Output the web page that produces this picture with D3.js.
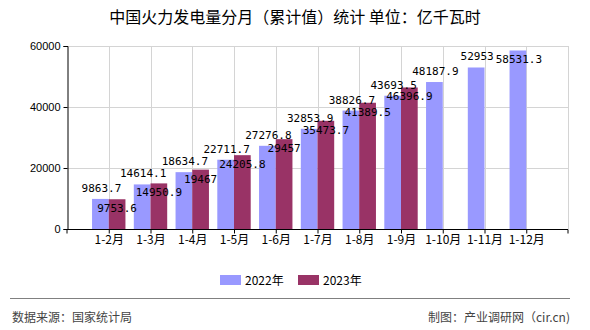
<!DOCTYPE html>
<html><head><meta charset="utf-8">
<script src="https://cdn.jsdelivr.net/npm/d3@7"></script>
<style>
html,body{margin:0;padding:0;background:#fff;}
svg{display:block;}
</style></head>
<body>
<script>
const categories = ["1-2月","1-3月","1-4月","1-5月","1-6月","1-7月","1-8月","1-9月","1-10月","1-11月","1-12月"];
const series2022 = [9863.7,14614.1,18634.7,22711.7,27276.8,32853.9,38826.7,43693.5,48187.9,52953,58531.3];
const series2023 = [9753.6,14950.9,19467,24205.8,29457,35473.7,41389.5,46396.9,null,null,null];
const seriesNames = ["2022年","2023年"];
const yTicks = [0,20000,40000,60000];
const colors = ["#9999FF","#993366"];

const W=590,H=330;
const svg=d3.select("body").append("svg").attr("width",W).attr("height",H);
const x0=67,x1=568,yTop=46,yBot=229;
const x=d3.scalePoint().domain(categories).range([x0,x1]).padding(1);
const y=d3.scaleLinear().domain([0,60000]).range([yBot,yTop]);
const step=x.step(), bw=step*0.4;
const cjk="'Noto Sans CJK SC','Noto Sans',sans-serif";
const mono="'DejaVu Sans Mono','Liberation Mono',monospace";

svg.append("text").attr("x",295).attr("y",23).attr("text-anchor","middle")
  .style("font-family",cjk).style("font-size","16px").style("fill","#000")
  .text("中国火力发电量分月（累计值）统计 单位：亿千瓦时");

// grid
const g=svg.append("g");
g.selectAll("line.h").data(yTicks.filter(d=>d>0)).join("line")
  .attr("x1",x0).attr("x2",x1).attr("y1",d=>y(d)+0.5).attr("y2",d=>y(d)+0.5)
  .attr("stroke","#d4d4d4").attr("stroke-width",1);
g.selectAll("line.v").data(categories).join("line")
  .attr("x1",d=>Math.round(x(d))+0.5).attr("x2",d=>Math.round(x(d))+0.5).attr("y1",yTop).attr("y2",yBot)
  .attr("stroke","#d4d4d4");
g.append("line").attr("x1",x1+0.5).attr("x2",x1+0.5).attr("y1",yTop).attr("y2",yBot).attr("stroke","#d4d4d4");

// bars
const bars=svg.append("g");
bars.selectAll("rect.a").data(categories).join("rect")
  .attr("x",d=>x(d)-bw).attr("width",bw)
  .attr("y",(d,i)=>y(series2022[i])).attr("height",(d,i)=>yBot-y(series2022[i]))
  .attr("fill",colors[0]);
const d23=categories.map((c,i)=>({c,v:series2023[i]})).filter(d=>d.v!=null);
bars.selectAll("rect.b").data(d23).join("rect")
  .attr("x",d=>x(d.c)).attr("width",bw)
  .attr("y",d=>y(d.v)).attr("height",d=>yBot-y(d.v))
  .attr("fill",colors[1]);

// axes
const yAxis=d3.axisLeft(y).tickValues(yTicks).tickSize(4).tickFormat(d3.format("d"));
const ya=svg.append("g").attr("transform",`translate(${x0+0.5},0)`).call(yAxis);
ya.select(".domain").attr("stroke","#000");
ya.selectAll(".tick line").attr("stroke","#000");
ya.selectAll(".tick text").style("font-family","'Liberation Sans',Arial,sans-serif").style("font-size","11px").attr("fill","#000").attr("x",-7);

const xAxis=d3.axisBottom(x).tickSize(4).tickSizeOuter(4);
const xa=svg.append("g").attr("transform",`translate(0,${yBot+0.5})`).call(xAxis);
xa.select(".domain").attr("stroke","#000").attr("d",`M${x0},4V0H${x1}V4`);
xa.selectAll(".tick line").attr("stroke","#000");
xa.selectAll(".tick text").style("font-family",cjk).style("font-size","12px").attr("fill","#000").attr("dy","0.71em").attr("y",6);

// labels
const lab=svg.append("g").style("font-family",mono).style("font-size","11px").attr("fill","#000");
lab.selectAll("text.a").data(categories).join("text")
  .attr("x",d=>x(d)-bw/2+1)
  .attr("y",(d,i)=>{const t=y(series2022[i]); return (t-18<yTop)? t+13 : t-7;})
  .attr("text-anchor","middle").text((d,i)=>series2022[i]);
lab.selectAll("text.b").data(d23).join("text")
  .attr("x",d=>x(d.c)+bw/2).attr("y",d=>y(d.v)+13)
  .attr("text-anchor","middle").text(d=>d.v);

// legend
const leg=svg.append("g").style("font-family",cjk).style("font-size","12px");
const legX=[220,298];
seriesNames.forEach((n,i)=>{
  leg.append("rect").attr("x",legX[i]).attr("y",275).attr("width",21).attr("height",10).attr("fill",colors[i]);
  leg.append("text").attr("x",legX[i]+25).attr("y",284.5).attr("fill","#000").text(n);
});

// footer
svg.append("line").attr("x1",10).attr("x2",570).attr("y1",298.5).attr("y2",298.5).attr("stroke","#808080").attr("stroke-width",1);
svg.append("text").attr("x",12).attr("y",322).style("font-family",cjk).style("font-size","12px").attr("fill","#444").text("数据来源：国家统计局");
svg.append("text").attr("x",570).attr("y",322).attr("text-anchor","end").style("font-family",cjk).style("font-size","12px").attr("fill","#444").text("制图：产业调研网（cir.cn)");
</script>
</body></html>
